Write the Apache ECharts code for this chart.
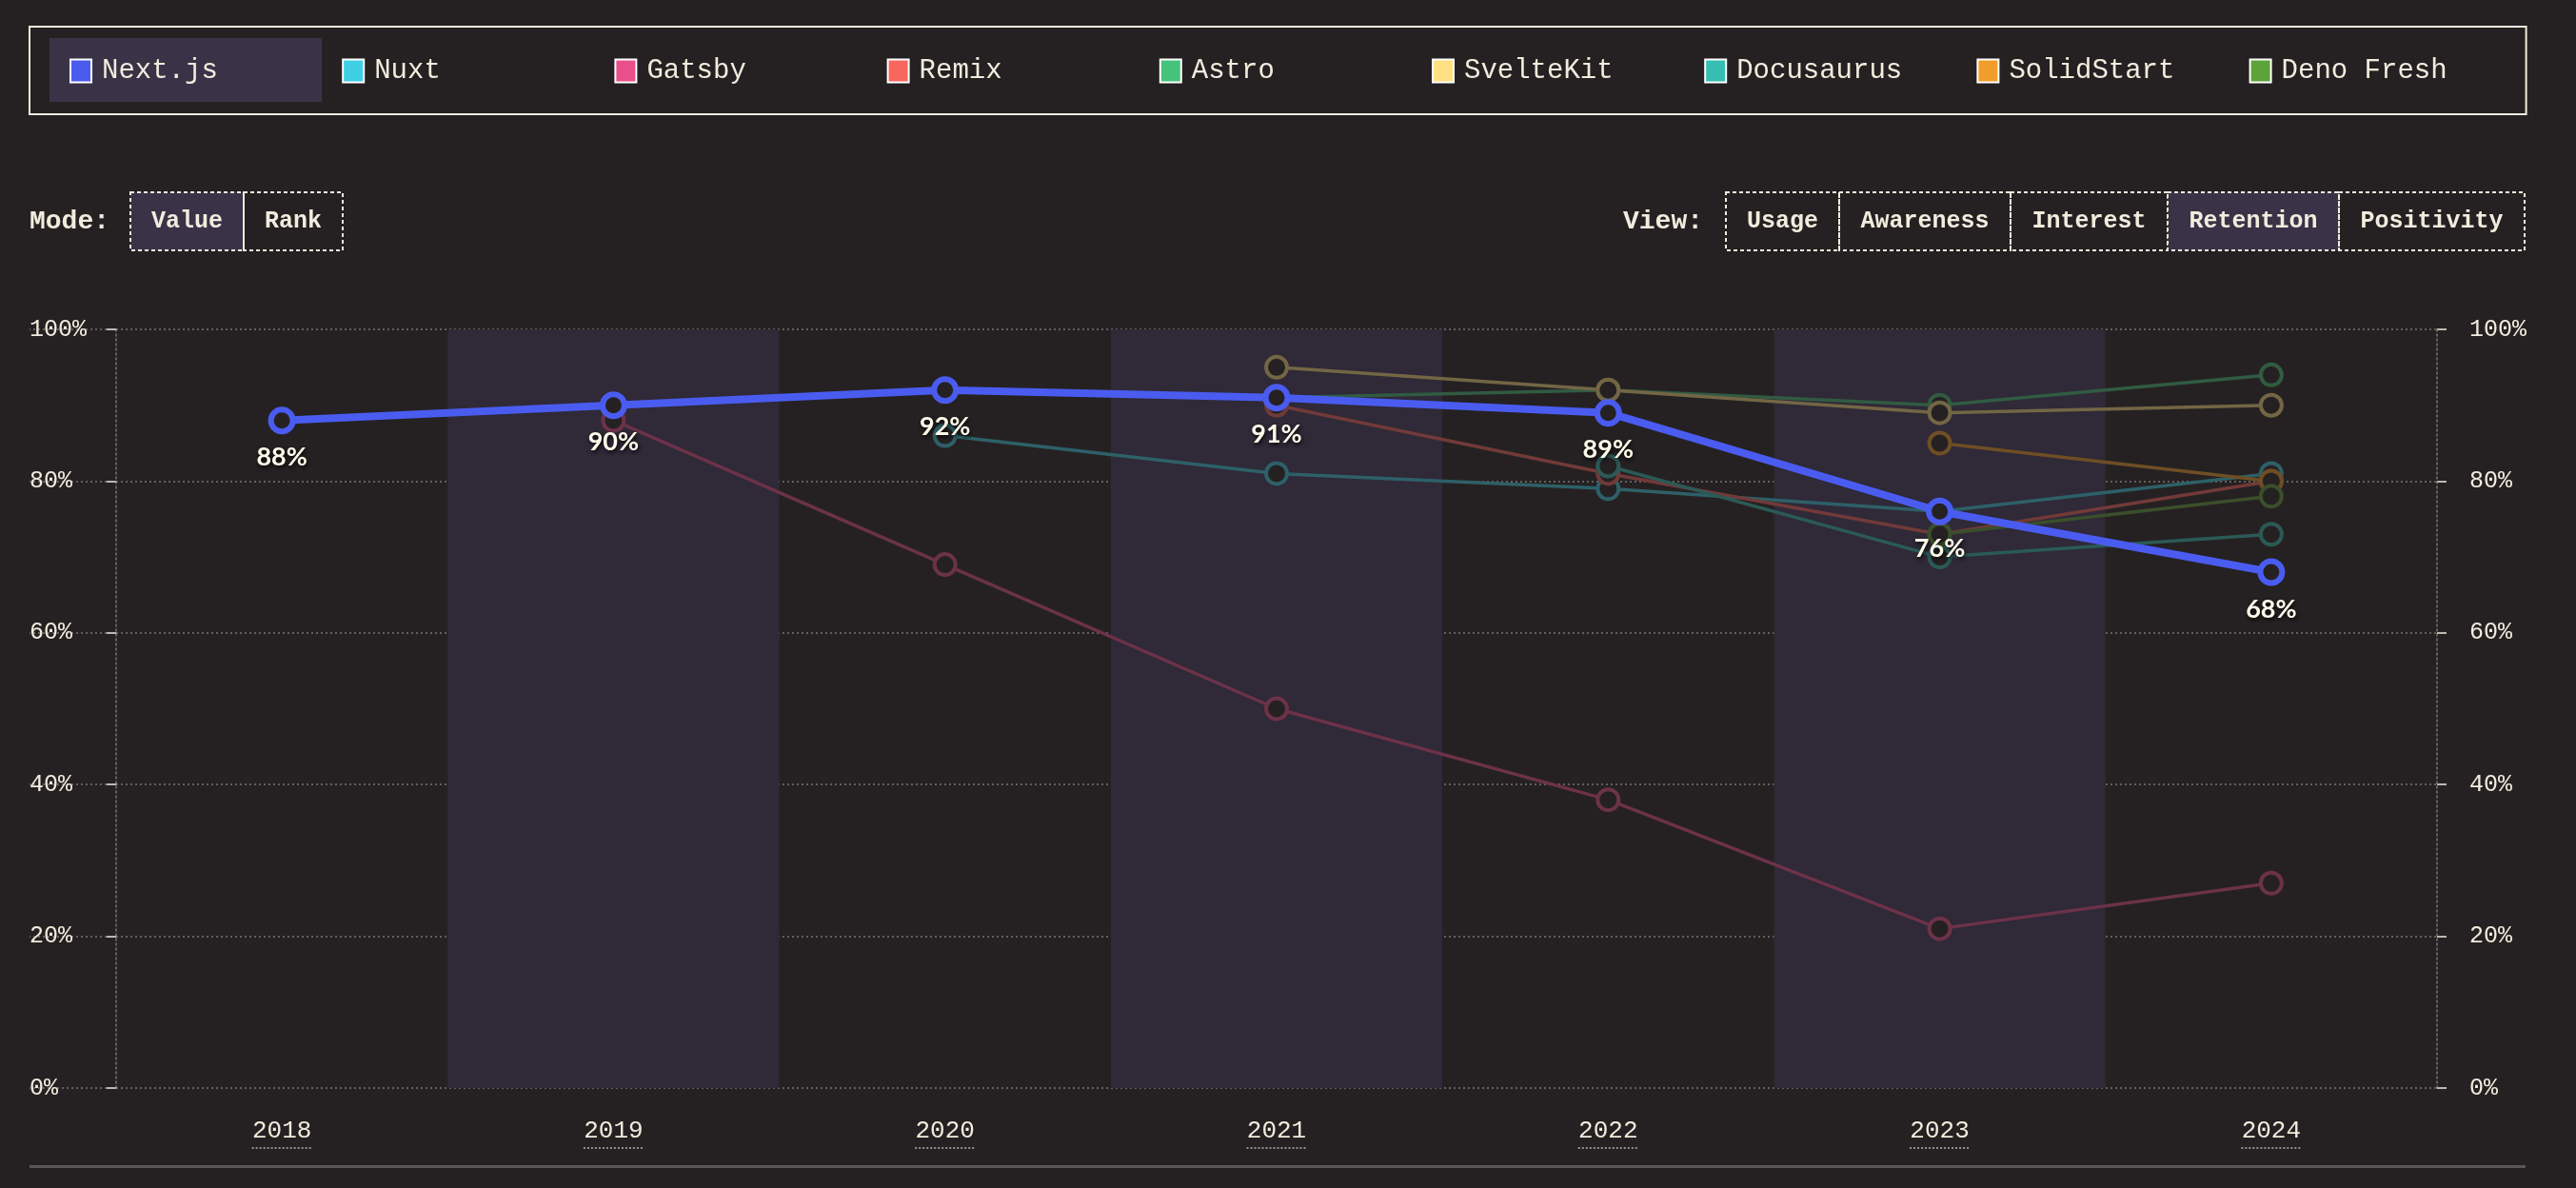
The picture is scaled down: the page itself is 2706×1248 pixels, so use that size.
<!DOCTYPE html>
<html><head><meta charset="utf-8">
<script src="https://cdn.jsdelivr.net/npm/echarts@6/dist/echarts.min.js"></script>
<style>html,body{margin:0;padding:0;background:#252122;}#c{width:2706px;height:1248px;}</style>
</head><body><div id="c"></div>
<script>
// ---- data ----
const years = ['2018', '2019', '2020', '2021', '2022', '2023', '2024'];
const frameworks = ['Next.js', 'Nuxt', 'Gatsby', 'Remix', 'Astro', 'SvelteKit', 'Docusaurus', 'SolidStart', 'Deno Fresh'];
const nextjs     = [88, 90, 92, 91, 89, 76, 68];
const nuxt       = [null, null, 86, 81, 79, 76, 81];
const gatsby     = [null, 88, 69, 50, 38, 21, 27];
const remix      = [null, null, null, 90, 81, 73, 80];
const astro      = [null, null, null, 91, 92, 90, 94];
const sveltekit  = [null, null, null, 95, 92, 89, 90];
const docusaurus = [null, null, null, null, 82, 70, 73];
const solidstart = [null, null, null, null, null, 85, 80];
const denofresh  = [null, null, null, null, null, 73, 78];
const yTicks = [0, 20, 40, 60, 80, 100];
const modeButtons = ['Value', 'Rank'];
const viewButtons = ['Usage', 'Awareness', 'Interest', 'Retention', 'Positivity'];

// ---- styles ----
const BG = '#252122';
const BAND = '#2f2938';
const CREAM = '#f1ecdd';
const GRID = 'rgba(190,185,180,0.55)';
const HL = '#3a3347';
const colors = ['#4a5cf0', '#3ecfe5', '#ea4f8b', '#f8675e', '#45c37c', '#ffe082', '#35beb2', '#f29d2a', '#5ea23a'];
const allData = [nextjs, nuxt, gatsby, remix, astro, sveltekit, docusaurus, solidstart, denofresh];
const MONO = '"Liberation Mono", "DejaVu Sans Mono", monospace';

function blend(hex, a) {
  const c = parseInt(hex.slice(1), 16), b = parseInt(BG.slice(1), 16);
  const ch = s => Math.round(((c >> s) & 255) * a + ((b >> s) & 255) * (1 - a));
  return 'rgb(' + ch(16) + ',' + ch(8) + ',' + ch(0) + ')';
}

const series = [];
for (let i = 1; i < frameworks.length; i++) {
  const fc = blend(colors[i], 0.36);
  series.push({
    type: 'line', name: frameworks[i], data: allData[i],
    symbol: 'circle', symbolSize: 22, z: 2, silent: true,
    lineStyle: { color: fc, width: 3.5 },
    itemStyle: { color: BG, borderColor: fc, borderWidth: 4 },
    emphasis: { disabled: true }
  });
}
series.push({
  type: 'line', name: frameworks[0], data: nextjs,
  symbol: 'circle', symbolSize: 23, z: 10, silent: true,
  lineStyle: { color: colors[0], width: 8 },
  itemStyle: { color: BG, borderColor: colors[0], borderWidth: 6 },
  emphasis: { disabled: true },
  label: {
    show: true, position: 'bottom', distance: 11, formatter: '{c}%',
    fontFamily: 'Lato', fontWeight: 'bold', fontSize: 27, color: '#fffbea',
    textShadowColor: 'rgba(0,0,0,0.9)', textShadowBlur: 4, textShadowOffsetX: 1, textShadowOffsetY: 2
  }
});

const yBase = { type: 'value', min: yTicks[0], max: yTicks[yTicks.length - 1], interval: yTicks[1] - yTicks[0] };
const tickStyle = { show: true, length: 10, lineStyle: { color: '#bdb8b0', width: 2 } };
const axisLineStyle = { show: true, lineStyle: { color: GRID, width: 1.5, type: [2, 3] } };
const labelStyle = { color: CREAM, fontFamily: MONO, fontSize: 25, formatter: v => v + '%' };

// UI graphic elements (legend highlight, buttons, bottom rule)
const graphics = [
  { type: 'rect', z: 0, shape: { x: 52, y: 40, width: 286, height: 67 }, style: { fill: HL } },
  { type: 'rect', z: 0, shape: { x: 31, y: 1224, width: 2622, height: 3 }, style: { fill: '#5a5658' } },
  { type: 'text', x: 31, y: 233, style: { text: 'Mode:', font: 'bold 28px ' + MONO, fill: CREAM, align: 'left', verticalAlign: 'middle' } },
  { type: 'text', x: 1705, y: 233, style: { text: 'View:', font: 'bold 28px ' + MONO, fill: CREAM, align: 'left', verticalAlign: 'middle' } }
];
function addButtons(labels, edges, active) {
  labels.forEach((t, i) => {
    const x0 = edges[i], x1 = edges[i + 1];
    graphics.push({ type: 'rect', z: 1, shape: { x: x0, y: 202, width: x1 - x0, height: 61 },
      style: { fill: t === active ? HL : 'rgba(0,0,0,0)', stroke: CREAM, lineWidth: 2, lineDash: [4, 3] } });
    graphics.push({ type: 'text', z: 2, x: (x0 + x1) / 2, y: 233,
      style: { text: t, font: 'bold 25px ' + MONO, fill: CREAM, align: 'center', verticalAlign: 'middle' } });
  });
}
addButtons(modeButtons, [137, 256, 360], 'Value');
addButtons(viewButtons, [1813, 1932, 2112, 2277, 2457, 2652], 'Retention');

const chart = echarts.init(document.getElementById('c'), null, { renderer: 'canvas' });
chart.setOption({
  backgroundColor: BG,
  animation: false,
  graphic: graphics,
  legend: {
    left: 31, top: 28, padding: [32, 31, 31, 42],
    borderColor: CREAM, borderWidth: 2,
    icon: 'rect', itemWidth: 22, itemHeight: 24, itemGap: 26.2,
    textStyle: { color: CREAM, fontFamily: MONO, fontSize: 29, width: 226, lineHeight: 24, padding: [0, 0, 0, 6] },
    data: frameworks.map((n, i) => ({ name: n, itemStyle: { color: colors[i], borderColor: '#ffffff', borderWidth: 2, opacity: 1 } })),
    z: 5
  },
  grid: { left: 122, right: 146, top: 346, bottom: 105, containLabel: false },
  xAxis: {
    type: 'category', data: years, boundaryGap: true,
    axisLine: { show: false }, axisTick: { show: false },
    splitLine: { show: false },
    splitArea: { show: true, interval: 0, areaStyle: { color: ['rgba(0,0,0,0)', BAND] } },
    axisLabel: {
      interval: 0, margin: 31,
      formatter: v => '{t|' + v + '}\n{u| }',
      rich: {
        t: { color: CREAM, fontFamily: MONO, fontSize: 26, lineHeight: 28 },
        u: { width: 63, height: 0, fontSize: 1, lineHeight: 8, borderColor: '#b8b3ab', borderWidth: 1.5, borderType: [2, 2] }
      }
    }
  },
  yAxis: [
    Object.assign({}, yBase, {
      position: 'left', axisLine: axisLineStyle, axisTick: tickStyle,
      axisLabel: Object.assign({ margin: 91, align: 'left' }, labelStyle),
      splitLine: { show: true, lineStyle: { color: GRID, width: 1.5, type: [2, 3] } }
    }),
    Object.assign({}, yBase, {
      position: 'right', axisLine: axisLineStyle, axisTick: tickStyle,
      axisLabel: Object.assign({ margin: 34, align: 'left' }, labelStyle),
      splitLine: { show: false }
    }),
    Object.assign({}, yBase, {
      position: 'left', offset: 0, axisLine: { show: false },
      axisTick: { show: true, length: 91, lineStyle: { color: GRID, width: 1.5, type: [2, 3] } },
      axisLabel: { show: false }, splitLine: { show: false }
    })
  ],
  series: series
});
</script></body></html>
